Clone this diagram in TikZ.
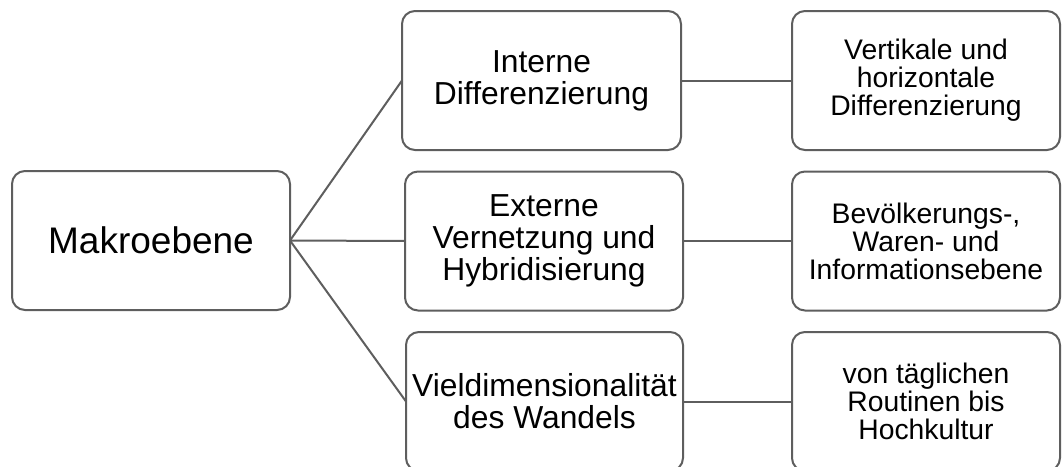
\documentclass[tikz,border=0pt]{standalone}
\usepackage{fontspec}
\setmainfont{Liberation Sans}
\definecolor{edge}{HTML}{5E5E5E}
\tikzset{
  box/.style={draw=edge, line width=2pt, rounded corners=13pt, fill=white, align=center, inner sep=0pt, outer sep=0pt, text=black},
  bigbox/.style={box, minimum width=278pt, minimum height=139pt, font=\fontsize{37}{40}\selectfont},
  midbox/.style={box, minimum width=278pt, minimum height=139pt, font=\fontsize{31.8}{32}\selectfont},
  rightbox/.style={box, minimum width=268pt, minimum height=139pt, font=\fontsize{28.3}{28}\selectfont},
  conn/.style={draw=edge, line width=2pt}
}
\begin{document}
\begin{tikzpicture}[x=1pt,y=-1pt]
\useasboundingbox (0,0) rectangle (1062,466);
\begin{scope}
\clip (0,0) rectangle (1062,466);
\node[bigbox] (mak) at (151,240.5) {Makroebene};
\node[midbox, minimum width=279pt] (m1) at (541.5,80.5) {Interne\\Differenzierung};
\node[midbox] (m2) at (544,241) {Externe\\Vernetzung und\\Hybridisierung};
\node[midbox, minimum width=277pt] (m3) at (544.5,401.5) {Vieldimensionalität\\des Wandels};
\node[rightbox] (r1) at (926,80.5) {Vertikale und\\horizontale\\Differenzierung};
\node[rightbox] (r2) at (926,241) {Bevölkerungs-,\\Waren- und\\Informationsebene};
\node[rightbox] (r3) at (926,401.5) {von täglichen\\Routinen bis\\Hochkultur};
\draw[conn] (mak.east) -- (m1.west);
\draw[conn] (mak.east) -- (m2.west);
\draw[conn] (mak.east) -- (m3.west);
\draw[conn] (m1.east) -- (r1.west);
\draw[conn] (m2.east) -- (r2.west);
\draw[conn] (m3.east) -- (r3.west);
\end{scope}
\end{tikzpicture}
\end{document}
